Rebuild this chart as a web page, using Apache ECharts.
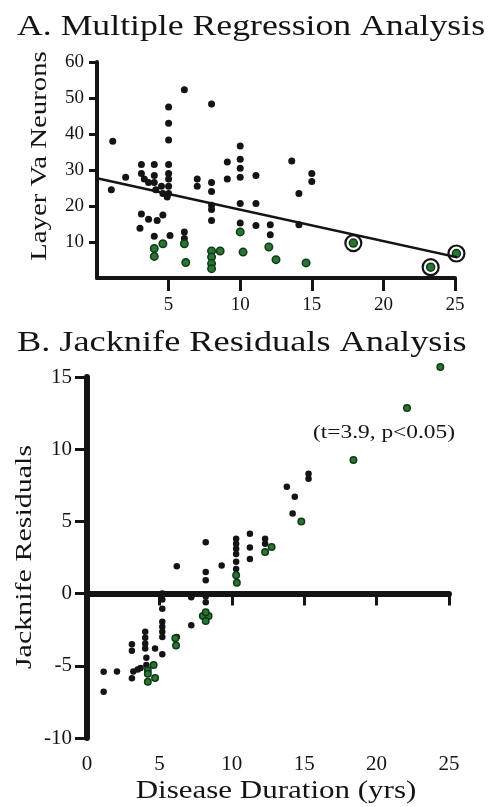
<!DOCTYPE html>
<html>
<head>
<meta charset="utf-8">
<script src="https://cdn.jsdelivr.net/npm/echarts@6/dist/echarts.min.js"></script>
<style>
html,body{margin:0;padding:0;background:#fff;}
#chart{width:496px;height:807px;}
</style>
</head>
<body>
<div id="chart"></div>
<script>
// ---- Panel A data (Disease duration yrs, Layer Va neurons) ----
const topBlack = [
  [1.1,38],[1.0,24.5],[2.0,28],[3.1,31.5],[3.1,29],[3.3,27.5],[3.6,26.5],[4.0,31.5],[4.0,28.5],
  [4.0,26.5],[4.1,24.5],[4.5,25.5],[4.6,23.5],[5.0,47.5],[5.0,43],[5.0,38.3],[5.0,31.5],[5.0,29],
  [5.0,27.5],[5.0,25.5],[5.0,23.5],[4.9,22.5],[3.1,17.8],[3.6,16.3],[4.2,16],[4.6,17.5],[3.0,13.8],
  [4.0,11.6],[5.1,11.8],[6.1,52.3],[6.1,12.8],[6.1,11.0],[7.0,27.5],[7.0,25.5],[8.0,48.3],[8.0,26.5],
  [8.0,24],[8.0,20.2],[8.0,19],[8.0,16],[9.1,32.2],[9.1,27.5],[10.0,36.7],[10.0,33],[10.0,30.5],
  [10.0,28],[10.0,20.7],[10.0,15.3],[11.1,28.5],[11.1,20.7],[11.1,14.6],[12.1,14.8],[12.1,12],
  [13.6,32.5],[14.1,23.5],[14.1,14.8],[15.0,29],[15.0,26.8]
];
const topGreen = [
  [4.0,8.2],[4.0,6.0],[4.6,9.5],[6.1,9.5],[6.2,4.3],[8.0,7.5],[8.6,7.5],[8.0,5.8],[8.0,4.0],
  [8.0,2.6],[10.0,12.8],[10.2,7.2],[12.0,8.6],[12.5,5.1],[14.6,4.2]
];
const topOutliers = [[17.9,9.7],[23.3,3.0],[25.1,6.8]];
const regLine = [[0,27.7],[25.9,5.1]];
const topXTicks = [5,10,15,20,25];
const topYTicks = [10,20,30,40,50,60];

// ---- Panel B data (Disease duration yrs, Jacknife residuals) ----
const botBlack = [
  [1.15,-5.42],[1.15,-6.8],[2.07,-5.4],[3.1,-3.5],[3.1,-3.95],[3.1,-5.87],[3.2,-5.4],[3.5,-5.25],
  [3.7,-5.15],[4.02,-2.65],[4.02,-3.05],[4.02,-3.45],[4.02,-3.8],[4.1,-4.45],[4.1,-4.95],[4.7,-3.8],
  [5.2,0.0],[5.2,-0.4],[5.2,-1.05],[5.2,-1.95],[5.2,-2.3],[5.2,-2.65],[5.2,-3.0],[5.2,-4.2],
  [6.2,1.9],[6.2,-3.0],[7.2,-0.25],[7.2,-2.2],[8.2,3.55],[8.2,1.5],[8.2,0.92],[8.2,-0.2],[8.2,-0.6],
  [9.3,1.95],[10.3,3.8],[10.3,3.45],[10.3,3.1],[10.3,2.75],[10.3,2.2],[10.3,1.7],[11.25,4.15],
  [11.25,3.2],[11.25,2.4],[12.3,3.8],[12.3,3.45],[13.8,7.4],[14.35,6.7],[14.2,5.55],[15.3,8.3],[15.3,7.95]
];
const botGreen = [
  [4.2,-5.3],[4.2,-5.55],[4.2,-6.1],[4.6,-4.95],[4.7,-5.85],[6.1,-3.1],[6.15,-3.6],[8.0,-1.55],
  [8.4,-1.55],[8.2,-1.3],[8.2,-1.9],[10.3,1.27],[10.35,0.75],[12.3,2.88],[12.75,3.22],[14.8,5.0],
  [18.4,9.26],[22.1,12.85],[24.4,15.7]
];
const zeroLine = [[0,0],[25,0]];
const botXTicks = [0,5,10,15,20,25];
const botYTicks = [-10,-5,0,5,10,15];

const titleA = 'A. Multiple Regression Analysis';
const titleB = 'B. Jacknife Residuals Analysis';
const yNameA = 'Layer Va Neurons';
const yNameB = 'Jacknife Residuals';
const xNameB = 'Disease Duration (yrs)';
const statText = '(t=3.9, p<0.05)';

const SERIF = 'Liberation Serif';
const INK = '#141414';
const GREEN = '#2a7434';
const GREEN_EDGE = '#0f3a17';

function txt(text, x, y, size, scaleX, rot, align) {
  return {
    type: 'text', x: x, y: y, rotation: rot || 0, scaleX: scaleX, scaleY: 1,
    style: {
      text: text, x: 0, y: 0, fontSize: size, fontFamily: SERIF, fill: INK,
      align: align || 'center', verticalAlign: 'middle',
      textAlign: align || 'center', textVerticalAlign: 'middle'
    }
  };
}

const chart = echarts.init(document.getElementById('chart'), null, {renderer: 'canvas'});
const option = {
  backgroundColor: '#fff',
  animation: false,
  grid: [
    {left: 97, top: 62, width: 358, height: 216, containLabel: false},
    {left: 87, top: 377, width: 362, height: 361, containLabel: false}
  ],
  xAxis: [
    {
      gridIndex: 0, type: 'value', min: 0, max: 25, interval: 5,
      splitLine: {show: false},
      axisLine: {show: true, lineStyle: {color: INK, width: 4}},
      axisTick: {show: true, length: 13, customValues: topXTicks, lineStyle: {color: INK, width: 3}},
      axisLabel: {customValues: topXTicks, fontSize: 19, fontFamily: SERIF, color: INK, margin: 18}
    },
    {
      gridIndex: 1, type: 'value', min: 0, max: 25, interval: 5,
      splitLine: {show: false},
      axisLine: {show: true, lineStyle: {color: INK, width: 6}},
      axisTick: {show: true, length: 12, customValues: botXTicks, lineStyle: {color: INK, width: 3}},
      axisLabel: {customValues: botXTicks, fontSize: 21, fontFamily: SERIF, color: INK, margin: 16}
    }
  ],
  yAxis: [
    {
      gridIndex: 0, type: 'value', min: 0, max: 60, interval: 10,
      splitLine: {show: false},
      axisLine: {show: true, lineStyle: {color: INK, width: 4}},
      axisTick: {show: true, length: 8, customValues: topYTicks, lineStyle: {color: INK, width: 3}},
      axisLabel: {customValues: topYTicks, fontSize: 19, fontFamily: SERIF, color: INK, margin: 13}
    },
    {
      gridIndex: 1, type: 'value', min: -10, max: 15, interval: 5,
      splitLine: {show: false},
      axisLine: {show: true, lineStyle: {color: INK, width: 6}},
      axisTick: {show: true, length: 12, customValues: botYTicks, lineStyle: {color: INK, width: 3}},
      axisLabel: {customValues: botYTicks, fontSize: 21, fontFamily: SERIF, color: INK, margin: 15}
    }
  ],
  series: [
    {type: 'line', xAxisIndex: 0, yAxisIndex: 0, data: regLine, symbol: 'none', clip: false,
      lineStyle: {color: INK, width: 2.5}, silent: true},
    {type: 'scatter', xAxisIndex: 0, yAxisIndex: 0, data: topBlack, symbolSize: 7, clip: false,
      itemStyle: {color: INK, opacity: 1}},
    {type: 'scatter', xAxisIndex: 0, yAxisIndex: 0, data: topGreen, symbolSize: 7.5, clip: false,
      itemStyle: {color: GREEN, borderColor: GREEN_EDGE, borderWidth: 1.5, opacity: 1}},
    {type: 'scatter', xAxisIndex: 0, yAxisIndex: 0, data: topOutliers, symbolSize: 16, clip: false,
      itemStyle: {color: '#fff', borderColor: INK, borderWidth: 2.2, opacity: 1}},
    {type: 'scatter', xAxisIndex: 0, yAxisIndex: 0, data: topOutliers, symbolSize: 8, clip: false,
      itemStyle: {color: GREEN, borderColor: GREEN_EDGE, borderWidth: 1.5, opacity: 1}},
    {type: 'line', xAxisIndex: 1, yAxisIndex: 1, data: zeroLine, symbol: 'none',
      lineStyle: {color: INK, width: 2.5}, silent: true},
    {type: 'scatter', xAxisIndex: 1, yAxisIndex: 1, data: botBlack, symbolSize: 6.5, clip: false,
      itemStyle: {color: INK, opacity: 1}},
    {type: 'scatter', xAxisIndex: 1, yAxisIndex: 1, data: botGreen, symbolSize: 6.5, clip: false,
      itemStyle: {color: GREEN, borderColor: GREEN_EDGE, borderWidth: 1.5, opacity: 1}}
  ],
  graphic: [
    txt(titleA, 17, 27, 30, 1.19, 0, 'left'),
    txt(titleB, 17, 343, 30, 1.21, 0, 'left'),
    txt(yNameA, 40, 156, 24, 1.2, Math.PI / 2),
    txt(yNameB, 25, 557, 24, 1.25, Math.PI / 2),
    txt(xNameB, 276, 791, 25, 1.24, 0),
    txt(statText, 384, 433, 19, 1.23, 0)
  ]
};
chart.setOption(option);
</script>
</body>
</html>
